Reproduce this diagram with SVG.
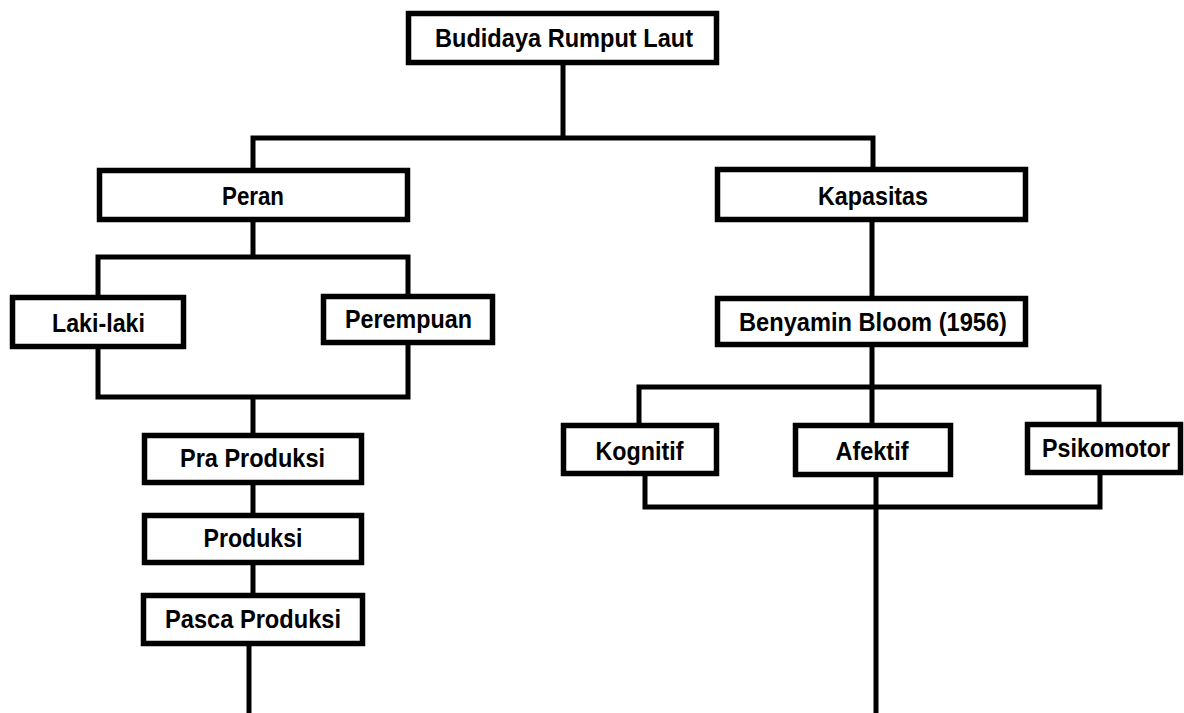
<svg xmlns="http://www.w3.org/2000/svg" width="1184" height="713" viewBox="0 0 1184 713">
<style>
.box{fill:#fff;stroke:#000;stroke-width:5.5}
.ln{fill:none;stroke:#000;stroke-width:5;stroke-linejoin:miter}
.t{font-family:"Liberation Sans",Arial,sans-serif;font-weight:bold;font-size:26px;fill:#000;text-anchor:middle}
</style>
<rect width="1184" height="713" fill="#fff"/>
<g id="connectors">
<line class="ln" x1="563" y1="62" x2="563" y2="138"/>
<polyline class="ln" points="253,171 253,138 873,138 873,170"/>
<line class="ln" x1="253" y1="220" x2="253" y2="257"/>
<polyline class="ln" points="98,298 98,257 408,257 408,297"/>
<polyline class="ln" points="98,347 98,397 408,397 408,342"/>
<line class="ln" x1="253" y1="397" x2="253" y2="436"/>
<line class="ln" x1="253" y1="483" x2="253" y2="516"/>
<line class="ln" x1="253" y1="563" x2="253" y2="596"/>
<line class="ln" x1="249" y1="644" x2="249" y2="713"/>
<line class="ln" x1="872" y1="220" x2="872" y2="299"/>
<line class="ln" x1="872" y1="345" x2="872" y2="426"/>
<polyline class="ln" points="639,426 639,387 1099,387 1099,425"/>
<polyline class="ln" points="645,474 645,507 1100,507 1100,473"/>
<line class="ln" x1="876" y1="475" x2="876" y2="713"/>
</g>
<g id="n-budidaya"><rect class="box" x="408.5" y="13.5" width="308" height="49"/><text class="t" x="564" y="47" textLength="258" lengthAdjust="spacingAndGlyphs">Budidaya Rumput Laut</text></g>
<g id="n-peran"><rect class="box" x="99.5" y="170.5" width="308" height="49"/><text class="t" x="253" y="205" textLength="62" lengthAdjust="spacingAndGlyphs">Peran</text></g>
<g id="n-kapasitas"><rect class="box" x="717.5" y="169.5" width="308" height="50"/><text class="t" x="873" y="205" textLength="110" lengthAdjust="spacingAndGlyphs">Kapasitas</text></g>
<g id="n-laki"><rect class="box" x="12.5" y="297.5" width="171" height="49"/><text class="t" x="98.5" y="332" textLength="93" lengthAdjust="spacingAndGlyphs">Laki-laki</text></g>
<g id="n-perempuan"><rect class="box" x="323.5" y="296.5" width="169" height="46"/><text class="t" x="408.5" y="328" textLength="127" lengthAdjust="spacingAndGlyphs">Perempuan</text></g>
<g id="n-bloom"><rect class="box" x="717.5" y="298.5" width="308" height="46"/><text class="t" x="873" y="331" textLength="268" lengthAdjust="spacingAndGlyphs">Benyamin Bloom (1956)</text></g>
<g id="n-kognitif"><rect class="box" x="563.5" y="425.5" width="153" height="48"/><text class="t" x="639.5" y="460" textLength="88" lengthAdjust="spacingAndGlyphs">Kognitif</text></g>
<g id="n-afektif"><rect class="box" x="795.5" y="425.5" width="155" height="49"/><text class="t" x="872" y="460" textLength="73" lengthAdjust="spacingAndGlyphs">Afektif</text></g>
<g id="n-psikomotor"><rect class="box" x="1027.5" y="424.5" width="153" height="48"/><text class="t" x="1106" y="457" textLength="128" lengthAdjust="spacingAndGlyphs">Psikomotor</text></g>
<g id="n-pra"><rect class="box" x="144.5" y="435.5" width="217" height="47"/><text class="t" x="252.5" y="467" textLength="145" lengthAdjust="spacingAndGlyphs">Pra Produksi</text></g>
<g id="n-produksi"><rect class="box" x="144.5" y="515.5" width="217" height="47"/><text class="t" x="253" y="547" textLength="99" lengthAdjust="spacingAndGlyphs">Produksi</text></g>
<g id="n-pasca"><rect class="box" x="143.5" y="595.5" width="219" height="48"/><text class="t" x="253" y="628" textLength="176" lengthAdjust="spacingAndGlyphs">Pasca Produksi</text></g>
</svg>
